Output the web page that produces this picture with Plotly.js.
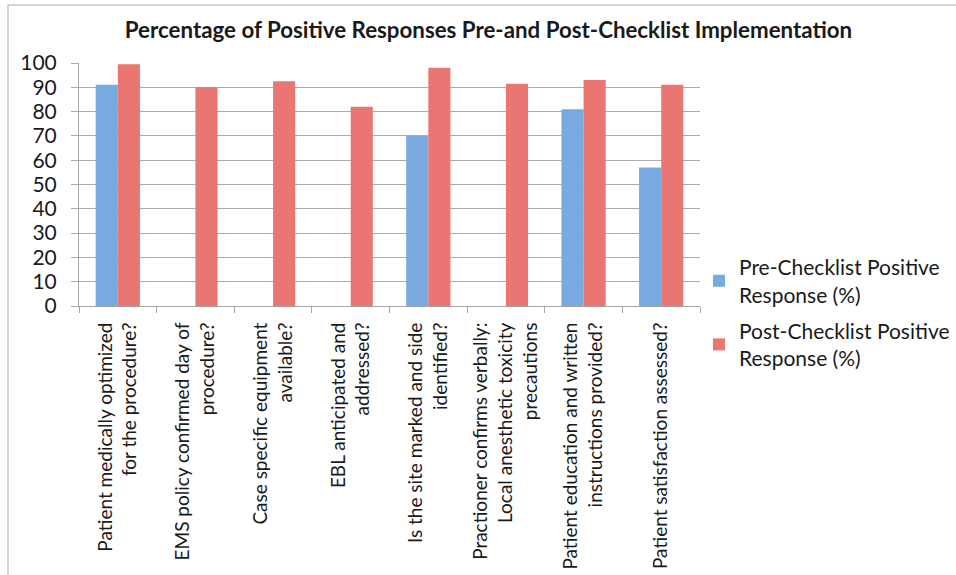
<!DOCTYPE html>
<html>
<head>
<meta charset="utf-8">
<script src="https://cdn.plot.ly/plotly-3.0.1.min.js"></script>
<style>html,body{margin:0;padding:0;background:#fff;}#chart{width:956px;height:575px;}</style>
</head>
<body>
<div id="chart"></div>
<script>
var categories = [
  "Patient medically optimized<br>for the procedure?",
  "EMS policy confirmed day of<br>procedure?",
  "Case specific equipment<br>available?",
  "EBL anticipated and<br>addressed?",
  "Is the site marked and side<br>identified?",
  "Practioner confirms verbally:<br>Local anesthetic toxicity<br>precautions",
  "Patient education and written<br>instructions provided?",
  "Patient satisfaction assessed?"
];
var preValues = [91, null, null, null, 70, null, 81, 57];
var postValues = [99.5, 90, 92.5, 82, 98, 91.5, 93, 91];
var seriesNames = ["Pre-Checklist Positive<br>Response (%)", "Post-Checklist Positive<br>Response (%)"];
var yTicks = [0, 10, 20, 30, 40, 50, 60, 70, 80, 90, 100];

var L = 79, R = 700, T = 63, B = 306, W = 956, H = 575;
function px(x){ return (x - L) / (R - L); }
function py(y){ return (B - y) / (B - T); }

var font = "Lato, 'Open Sans', sans-serif";
var traces = [
  {type: "bar", x: categories, y: preValues, name: seriesNames[0], legendgroup: "a",
   marker: {color: "#78aae0"}, hoverinfo: "y"},
  {type: "bar", x: categories, y: postValues, name: seriesNames[1], legendgroup: "b",
   marker: {color: "#e97672"}, hoverinfo: "y"}
];
var layout = {
  width: W, height: H,
  margin: {l: L, r: W - R, t: T, b: H - B, pad: 0, autoexpand: false},
  paper_bgcolor: "#ffffff", plot_bgcolor: "#ffffff",
  font: {family: font, color: "#1a1a1a"},
  title: {text: "<b>Percentage of Positive Responses Pre-and Post-Checklist Implementation</b>",
          x: 0.511, xanchor: "center", y: 0.947, yanchor: "middle",
          font: {size: 22.3, family: font, color: "#1a1a1a"}},
  barmode: "group", bargap: 0.43, bargroupgap: 0,
  showlegend: true,
  legend: {xref: "container", yref: "container", x: 699 / W, xanchor: "left",
           y: 1 - 247 / H, yanchor: "top",
           font: {size: 21, family: font, color: "#1a1a1a"},
           tracegroupgap: 6, itemwidth: 30, bgcolor: "rgba(0,0,0,0)"},
  xaxis: {type: "category", showgrid: false, zeroline: false,
          showline: true, linecolor: "#a6a6a6", linewidth: 1,
          ticks: "outside", ticklen: 6, tickcolor: "#a6a6a6", tickson: "boundaries",
          ticklabelstandoff: 8,
          tickangle: -90, tickfont: {size: 19, family: font, color: "#1a1a1a"},
          automargin: false},
  yaxis: {range: [0, 100], tickvals: yTicks, ticktext: yTicks.map(String),
          showgrid: true, gridcolor: "#ababab", gridwidth: 1, zeroline: false,
          showline: true, linecolor: "#a6a6a6", linewidth: 1,
          ticks: "outside", ticklen: 7, tickcolor: "#ababab",
          ticklabelstandoff: 10,
          tickfont: {size: 21, family: font, color: "#1a1a1a"},
          automargin: false},
  shapes: [
    {type: "rect", xref: "paper", yref: "paper",
     x0: px(8), x1: px(970), y0: py(590), y1: py(5),
     line: {color: "#c8c8c8", width: 1.5}, fillcolor: "rgba(0,0,0,0)", layer: "below"}
  ]
};
Plotly.newPlot("chart", traces, layout, {displayModeBar: false});
</script>
</body>
</html>
